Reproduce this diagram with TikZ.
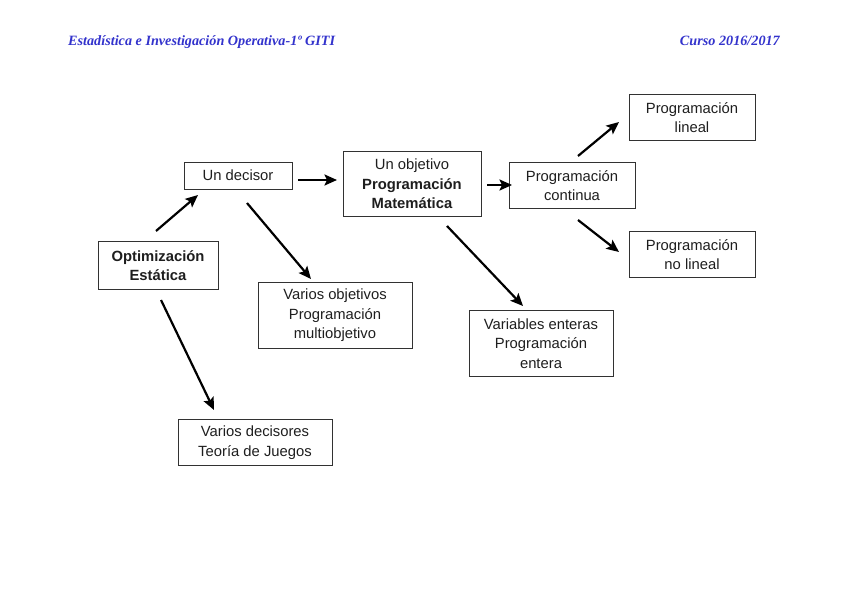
\documentclass[tikz,border=0pt]{standalone}
\usepackage{fontspec}
\setmainfont{Liberation Sans}
\newfontfamily\headfont{Liberation Serif}
\usetikzlibrary{arrows.meta}
\definecolor{headblue}{RGB}{51,51,204}
\definecolor{boxline}{RGB}{50,50,50}
\definecolor{boxtext}{RGB}{30,30,30}
\begin{document}
\begin{tikzpicture}[x=1pt,y=-1pt,
  box/.style={draw=boxline,line width=0.9pt,inner sep=0pt,align=center,text=boxtext,
    font=\fontsize{14.8}{19.5}\selectfont},
  arr/.style={line width=2.2pt,-{Stealth[length=12.5pt,width=11pt,inset=2.5pt]}},
  head/.style={inner sep=0pt,text=headblue,font=\headfont\bfseries\itshape\fontsize{14.2}{16}\selectfont}]
\useasboundingbox (0,0) rectangle (848,599);
\node[head,anchor=base west] (h1) at (68,46) {Estadística e Investigación Operativa-1º GITI};
\node[head,anchor=base east] (h2) at (780,46) {Curso 2016/2017};

\node[box,minimum width=108pt,minimum height=27pt] (dec) at (238,175.5) {Un decisor};
\node[box,minimum width=120pt,minimum height=48pt] (opt) at (158,265.5) {\bfseries Optimización\\\bfseries Estática};
\node[box,minimum width=138pt,minimum height=65pt] (obj) at (412,184) {Un objetivo\\\bfseries Programación\\\bfseries Matemática};
\node[box,minimum width=126pt,minimum height=46pt] (cont) at (572,185.5) {Programación\\continua};
\node[box,minimum width=126pt,minimum height=46pt] (lin) at (692,117.5) {Programación\\lineal};
\node[box,minimum width=126pt,minimum height=46pt] (nolin) at (692,254.5) {Programación\\no lineal};
\node[box,minimum width=154pt,minimum height=66pt] (multi) at (335,315.5) {Varios objetivos\\Programación\\multiobjetivo};
\node[box,minimum width=144pt,minimum height=66pt] (ent) at (541,343.5) {Variables enteras\\Programación\\entera};
\node[box,minimum width=154pt,minimum height=46pt] (jue) at (255,442.5) {Varios decisores\\Teoría de Juegos};

\coordinate (a1s) at (156,231); \coordinate (a1e) at (198,195);
\coordinate (a2s) at (247,203); \coordinate (a2e) at (311,279);
\coordinate (a3s) at (161,300); \coordinate (a3e) at (214,410);
\coordinate (a4s) at (298,180); \coordinate (a4e) at (337,180);
\coordinate (a5s) at (487,185); \coordinate (a5e) at (512,185);
\coordinate (a6s) at (447,226); \coordinate (a6e) at (523,306);
\coordinate (a7s) at (578,156); \coordinate (a7e) at (619,122);
\coordinate (a8s) at (578,220); \coordinate (a8e) at (619,252);
\draw[arr] (a1s) -- (a1e);
\draw[arr] (a2s) -- (a2e);
\draw[arr] (a3s) -- (a3e);
\draw[arr] (a4s) -- (a4e);
\draw[arr] (a5s) -- (a5e);
\draw[arr] (a6s) -- (a6e);
\draw[arr] (a7s) -- (a7e);
\draw[arr] (a8s) -- (a8e);
\end{tikzpicture}
\end{document}
